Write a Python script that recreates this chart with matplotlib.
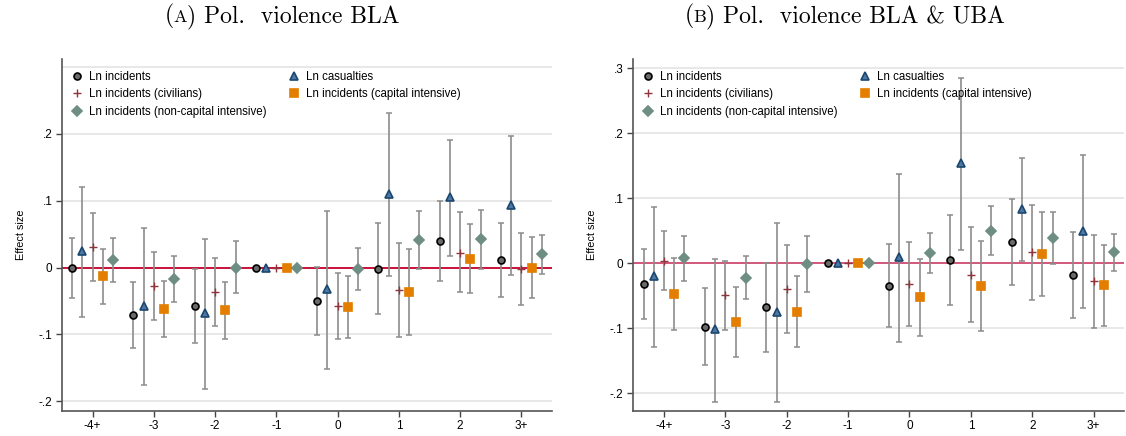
import numpy as np
import matplotlib
matplotlib.use("Agg")
import matplotlib.pyplot as plt
from matplotlib.lines import Line2D
from matplotlib.offsetbox import TextArea, HPacker, AnchoredOffsetbox

plt.rcParams['font.family'] = ['Liberation Sans', 'DejaVu Sans']

periods = ['-4+', '-3', '-2', '-1', '0', '1', '2', '3+']
nan = np.nan

# --- BLA only ---
bla_inc = [0.000, -0.0715, -0.0575, 0, -0.050, -0.002, 0.040, 0.0115]
bla_inc_lo = [-0.046, -0.1205, -0.1125, nan, -0.1015, -0.070, -0.0205, -0.0435]
bla_inc_hi = [0.0445, -0.022, -0.002, nan, 0.001, 0.066, 0.100, 0.0665]
bla_cas = [0.0245, -0.057, -0.068, 0, -0.0325, 0.1105, 0.1055, 0.094]
bla_cas_lo = [-0.074, -0.1755, -0.181, nan, -0.152, -0.0125, 0.018, -0.011]
bla_cas_hi = [0.1205, 0.0595, 0.0425, nan, 0.085, 0.231, 0.1915, 0.197]
bla_civ = [0.0305, -0.028, -0.0365, 0, -0.0575, -0.0335, 0.0225, -0.0015]
bla_civ_lo = [-0.0205, -0.0785, -0.087, nan, -0.1065, -0.1035, -0.037, -0.0565]
bla_civ_hi = [0.081, 0.023, 0.014, nan, -0.008, 0.0365, 0.0825, 0.0525]
bla_cap = [-0.013, -0.0615, -0.064, 0, -0.0595, -0.037, 0.0135, 0.000]
bla_cap_lo = [-0.055, -0.1035, -0.107, nan, -0.106, -0.1015, -0.0375, -0.046]
bla_cap_hi = [0.0285, -0.0195, -0.021, nan, -0.0125, 0.028, 0.065, 0.0455]
bla_ncap = [0.0115, -0.0175, 0.000, 0, -0.002, 0.0415, 0.0425, 0.020]
bla_ncap_lo = [-0.021, -0.0515, -0.038, nan, -0.034, -0.0015, -0.0015, -0.0095]
bla_ncap_hi = [0.0445, 0.017, 0.0395, nan, 0.029, 0.085, 0.0865, 0.049]

# --- BLA & UBA ---
all_inc = [-0.0323, -0.098, -0.0682, 0, -0.0349, 0.0046, 0.0323, -0.0185]
all_inc_lo = [-0.0862, -0.1574, -0.1364, nan, -0.098, -0.0651, -0.0338, -0.0851]
all_inc_hi = [0.021, -0.039, 0.000, nan, 0.0292, 0.0738, 0.0985, 0.0482]
all_cas = [-0.020, -0.102, -0.0749, 0, 0.0092, 0.1533, 0.0831, 0.0497]
all_cas_lo = [-0.1297, -0.2138, -0.2133, nan, -0.1215, 0.0205, 0.0031, -0.0697]
all_cas_hi = [0.0867, 0.0067, 0.061, nan, 0.1369, 0.2851, 0.1615, 0.1667]
all_civ = [0.0036, -0.0497, -0.0395, 0, -0.0323, -0.0179, 0.0164, -0.0282]
all_civ_lo = [-0.042, -0.103, -0.1072, nan, -0.0974, -0.0908, -0.0564, -0.0995]
all_civ_hi = [0.0497, 0.003, 0.0282, nan, 0.0318, 0.0549, 0.0892, 0.0436]
all_cap = [-0.0472, -0.0903, -0.0749, 0, -0.0528, -0.0359, 0.0138, -0.0344]
all_cap_lo = [-0.103, -0.1451, -0.1292, nan, -0.1128, -0.1041, -0.0503, -0.0964]
all_cap_hi = [0.0082, -0.0369, -0.0195, nan, 0.0062, 0.0338, 0.0785, 0.0282]
all_ncap = [0.0072, -0.0226, -0.0015, 0, 0.0154, 0.0497, 0.0385, 0.0164]
all_ncap_lo = [-0.0277, -0.0554, -0.0451, nan, -0.0159, 0.0128, -0.002, -0.0123]
all_ncap_hi = [0.0415, 0.0103, 0.042, nan, 0.0462, 0.0877, 0.079, 0.0451]

# series styles: label, marker, size, face, edge, offset
styles = [
    ('Ln incidents', 'o', 5.0, '#6a6a6a', 'black', -1/3),
    ('Ln casualties', '^', 5.5, '#4f77a3', '#1a476f', -1/6),
    ('Ln incidents (civilians)', '+', 6.0, '#90353b', '#90353b', 0.0),
    ('Ln incidents (capital intensive)', 's', 5.6, '#e37e00', '#e37e00', 1/6),
    ('Ln incidents (non-capital intensive)', 'D', 5.2, '#6e8e84', '#6e8e84', 1/3),
]

panels = [
    dict(series=[(bla_inc, bla_inc_lo, bla_inc_hi), (bla_cas, bla_cas_lo, bla_cas_hi),
                 (bla_civ, bla_civ_lo, bla_civ_hi), (bla_cap, bla_cap_lo, bla_cap_hi),
                 (bla_ncap, bla_ncap_lo, bla_ncap_hi)],
         ylim=(-0.214, 0.312), yticks=[-0.2, -0.1, 0, 0.1, 0.2],
         ylabels=['-.2', '-.1', '0', '.1', '.2'], zero='#c8103a',
         pos=[62/1126, 25.3/436, 490/1126, 351.7/436],
         lab='A', title=') Pol.  violence BLA', tx=282),
    dict(series=[(all_inc, all_inc_lo, all_inc_hi), (all_cas, all_cas_lo, all_cas_hi),
                 (all_civ, all_civ_lo, all_civ_hi), (all_cap, all_cap_lo, all_cap_hi),
                 (all_ncap, all_ncap_lo, all_ncap_hi)],
         ylim=(-0.227, 0.314), yticks=[-0.2, -0.1, 0, 0.1, 0.2, 0.3],
         ylabels=['-.2', '-.1', '0', '.1', '.2', '.3'], zero='#d0587a',
         pos=[633.3/1126, 25.3/436, 491/1126, 351.7/436],
         lab='B', title=') Pol.  violence BLA & UBA', tx=845),
]

fig = plt.figure(figsize=(11.26, 4.36), dpi=100)
x = np.arange(len(periods)) - 4

for p in panels:
    ax = fig.add_axes(p['pos'])
    for g in [-0.2, -0.1, 0.1, 0.2, 0.3]:
        ax.axhline(g, color='#e6e6e6', lw=1.3, zorder=0)
    ax.axhline(0, color=p['zero'], lw=1.4, zorder=1)

    for (est, lo, hi), (lab, mk, ms, fc, ec, off) in zip(p['series'], styles):
        est = np.array(est); lo = np.array(lo); hi = np.array(hi)
        ok = ~np.isnan(lo)
        ax.errorbar(x[ok] + off, est[ok], yerr=[est[ok] - lo[ok], hi[ok] - est[ok]],
                    fmt='none', ecolor='#8c8c8c', elinewidth=1.2, capsize=2.4,
                    capthick=1.1, zorder=2)
        ax.plot(x + off, est, ls='none', marker=mk, ms=ms, mfc=fc, mec=ec,
                mew=1.2 if mk != '+' else 1.0, zorder=3)

    ax.set_xlim(-4.5, 3.5)
    ax.set_ylim(*p['ylim'])
    ax.set_xticks(x)
    ax.set_xticklabels(periods)
    ax.set_yticks(p['yticks'])
    ax.set_yticklabels(p['ylabels'])
    ax.tick_params(labelsize=8.5, length=4, width=1.0, color='#444444', pad=3)
    for s in ['top', 'right']:
        ax.spines[s].set_visible(False)
    for s in ['left', 'bottom']:
        ax.spines[s].set_color('#555555')
        ax.spines[s].set_linewidth(1.2)
    ax.set_ylabel('Effect size', fontsize=7.8, labelpad=9)

    handles = []
    for lab, mk, ms, fc, ec, off in [styles[i] for i in (0, 2, 4, 1, 3)]:
        handles.append(Line2D([], [], ls='none', marker=mk, ms=ms, mfc=fc, mec=ec,
                              mew=1.2 if mk != '+' else 1.0, label=lab))
    ax.legend(handles=handles, ncol=2, loc='upper left', bbox_to_anchor=(0.002, 0.99),
              frameon=False, fontsize=8.3, handlelength=1.0, handletextpad=0.55,
              labelspacing=0.5, columnspacing=1.85, borderaxespad=0.3)

    # caption style title with small-caps panel letter
    parts = [TextArea('(', textprops=dict(family='cmr10', size=17)),
             TextArea(p['lab'], textprops=dict(family='cmr10', size=13)),
             TextArea(p['title'], textprops=dict(family='cmr10', size=17))]
    box = HPacker(children=parts, align='baseline', pad=0, sep=0)
    anc = AnchoredOffsetbox(loc='center', child=box, frameon=False,
                            bbox_to_anchor=(p['tx'] / 1126, 1 - 16 / 436),
                            bbox_transform=fig.transFigure, borderpad=0, pad=0)
    fig.add_artist(anc)

fig.savefig('out.png', dpi=100)
